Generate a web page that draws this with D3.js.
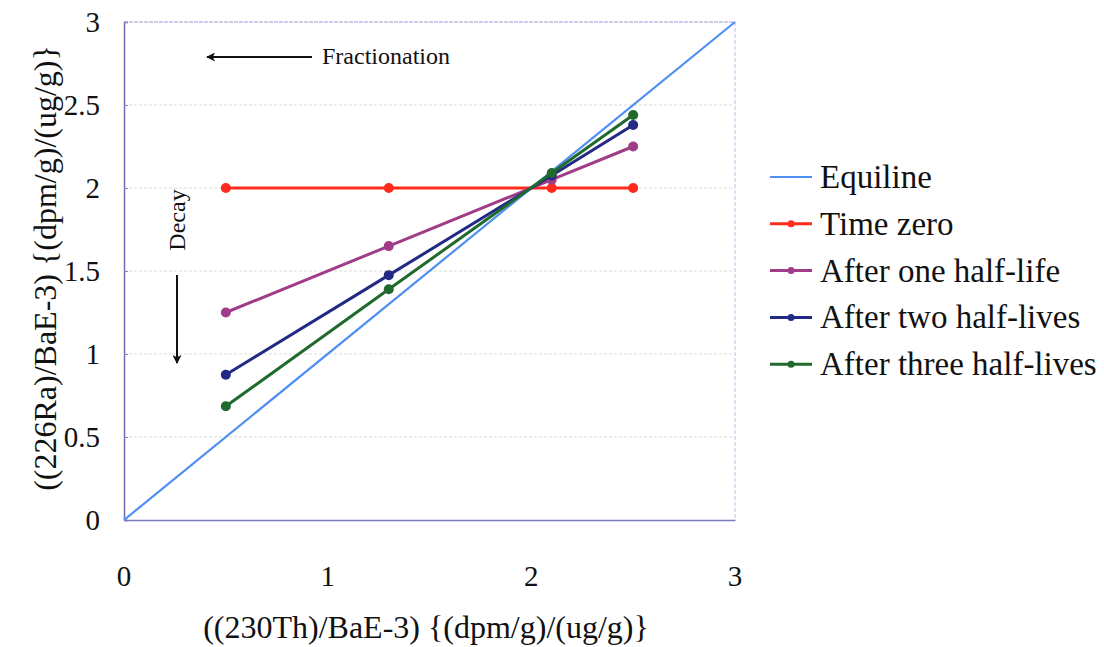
<!DOCTYPE html>
<html>
<head>
<meta charset="utf-8">
<script src="https://cdn.jsdelivr.net/npm/d3@7"></script>
<style>
  body { margin: 0; background: #fff; }
  svg { display: block; font-family: "Liberation Serif", "Times New Roman", serif; }
  .grid line { stroke: #d9ddd2; stroke-width: 1; stroke-dasharray: 3 2; }
</style>
</head>
<body>
<svg id="chart"></svg>
<script>
// data
const xVals = [0.5, 1.3, 2.1, 2.5]
const timeZero = [2, 2, 2, 2]
const oneHalf = [1.25, 1.65, 2.05, 2.25]
const twoHalf = [0.875, 1.475, 2.075, 2.38]
const threeHalf = [0.685, 1.39, 2.09, 2.44]
const equiline = [[0, 0], [3, 3]]
const xTicks = [0, 1, 2, 3]
const yTicks = [0, 0.5, 1, 1.5, 2, 2.5, 3]
const seriesNames = ['Time zero', 'After one half-life', 'After two half-lives', 'After three half-lives']
const seriesColors = ['#ff2b1c', '#a03c88', '#232a86', '#1f6a2c']

const WIDTH = 1104, HEIGHT = 647
const MARGIN = { top: 22, left: 124 }
const boundedWidth = 611, boundedHeight = 498

const $svg = d3.select('#chart').attr('width', WIDTH).attr('height', HEIGHT)
const $g = $svg.append('g').attr('transform', `translate(${MARGIN.left}, ${MARGIN.top})`)

const xScale = d3.scaleLinear().domain([0, 3]).range([0, boundedWidth])
const yScale = d3.scaleLinear().domain([0, 3]).range([boundedHeight, 0])

// grid
$g.append('g').attr('class', 'grid')
  .selectAll('line').data(yTicks.slice(1, -1)).enter().append('line')
    .attr('x1', 0).attr('x2', boundedWidth)
    .attr('y1', d => yScale(d)).attr('y2', d => yScale(d))

// frame
$g.append('line').attr('x1', 0).attr('x2', boundedWidth).attr('y1', 0).attr('y2', 0)
  .attr('stroke', '#9a9ad8').attr('stroke-width', 1.2).attr('stroke-dasharray', '4 1')
$g.append('line').attr('x1', boundedWidth).attr('x2', boundedWidth).attr('y1', 0).attr('y2', boundedHeight)
  .attr('stroke', '#c8cce8').attr('stroke-width', 1.2).attr('stroke-dasharray', '4 2')

// axes
const yAxis = $g.append('g')
  .call(d3.axisLeft(yScale).tickValues(yTicks).tickSize(-4).tickFormat(''))
yAxis.select('.domain').attr('stroke', '#6e6eb6').attr('stroke-width', 1.5)
yAxis.selectAll('.tick line').attr('stroke', '#8888c0')

const xAxis = $g.append('g').attr('transform', `translate(0, ${boundedHeight})`)
  .call(d3.axisBottom(xScale).tickValues(xTicks).tickSize(0).tickFormat(''))
xAxis.select('.domain').attr('stroke', '#7a7ac0').attr('stroke-width', 1.5)

// tick labels
$svg.selectAll('.ylab').data(yTicks).enter().append('text')
  .attr('class', 'ylab')
  .attr('x', 100).attr('y', d => MARGIN.top + yScale(d) + 10)
  .attr('text-anchor', 'end').attr('font-size', 29).attr('fill', '#111')
  .text(d => d)
$svg.selectAll('.xlab').data(xTicks).enter().append('text')
  .attr('class', 'xlab')
  .attr('x', d => MARGIN.left + xScale(d)).attr('y', 586)
  .attr('text-anchor', 'middle').attr('font-size', 29).attr('fill', '#111')
  .text(d => d)

// axis titles
$svg.append('text')
  .attr('x', MARGIN.left + 302).attr('y', 638)
  .attr('text-anchor', 'middle').attr('font-size', 32).attr('fill', '#111')
  .text('((230Th)/BaE-3) {(dpm/g)/(ug/g)}')
$svg.append('text')
  .attr('transform', `translate(56, 268) rotate(-90)`)
  .attr('text-anchor', 'middle').attr('font-size', 32).attr('fill', '#111')
  .text('((226Ra)/BaE-3) {(dpm/g)/(ug/g)}')

// equiline
const lineGen = d3.line().x(d => xScale(d[0])).y(d => yScale(d[1]))
$g.append('path').datum(equiline)
  .attr('d', lineGen).attr('fill', 'none')
  .attr('stroke', '#4f8ef2').attr('stroke-width', 2.2)

// series
const seriesData = [timeZero, oneHalf, twoHalf, threeHalf]
  .map(ys => ys.map((y, i) => [xVals[i], y]))

const $series = $g.selectAll('.series').data(seriesData).enter()
  .append('g').attr('class', 'series')
$series.append('path')
  .attr('d', lineGen).attr('fill', 'none')
  .attr('stroke', (d, i) => seriesColors[i]).attr('stroke-width', 3)
$series.each(function (d, i) {
  d3.select(this).selectAll('circle').data(d).enter().append('circle')
    .attr('cx', p => xScale(p[0])).attr('cy', p => yScale(p[1]))
    .attr('r', 5).attr('fill', seriesColors[i])
})

// annotations
const $ann = $svg.append('g').attr('fill', '#111')
$svg.append('defs').append('marker')
  .attr('id', 'arrow').attr('viewBox', '0 0 10 10')
  .attr('refX', 9).attr('refY', 5)
  .attr('markerWidth', 10).attr('markerHeight', 9)
  .attr('markerUnits', 'userSpaceOnUse')
  .attr('orient', 'auto')
  .append('path').attr('d', 'M0,0 L10,5 L0,10 L2.5,5 z').attr('fill', '#111')
$ann.append('line').attr('x1', 312).attr('y1', 57).attr('x2', 207).attr('y2', 57)
  .attr('stroke', '#111').attr('stroke-width', 2).attr('marker-end', 'url(#arrow)')
$ann.append('text').attr('x', 322).attr('y', 64).attr('font-size', 24)
  .text('Fractionation')
$ann.append('line').attr('x1', 177).attr('y1', 275).attr('x2', 177).attr('y2', 363)
  .attr('stroke', '#111').attr('stroke-width', 2).attr('marker-end', 'url(#arrow)')
$ann.append('text').attr('transform', 'translate(185, 220) rotate(-90)')
  .attr('text-anchor', 'middle').attr('font-size', 24)
  .text('Decay')

// legend
const legendItems = [{ name: 'Equiline', color: '#4f8ef2', marker: false }]
  .concat(seriesNames.map((n, i) => ({ name: n, color: seriesColors[i], marker: true })))
const $legend = $svg.append('g').attr('transform', 'translate(770, 177)')
const $item = $legend.selectAll('.item').data(legendItems).enter()
  .append('g').attr('class', 'item')
  .attr('transform', (d, i) => `translate(0, ${i * 46.8})`)
$item.append('line').attr('x1', 0).attr('x2', 42)
  .attr('stroke', d => d.color).attr('stroke-width', d => d.marker ? 3 : 2)
$item.filter(d => d.marker).append('circle')
  .attr('cx', 21).attr('r', 3.5).attr('fill', d => d.color)
$item.append('text').attr('x', 50).attr('y', 11)
  .attr('font-size', 33).attr('fill', '#111')
  .text(d => d.name)
</script>
</body>
</html>
